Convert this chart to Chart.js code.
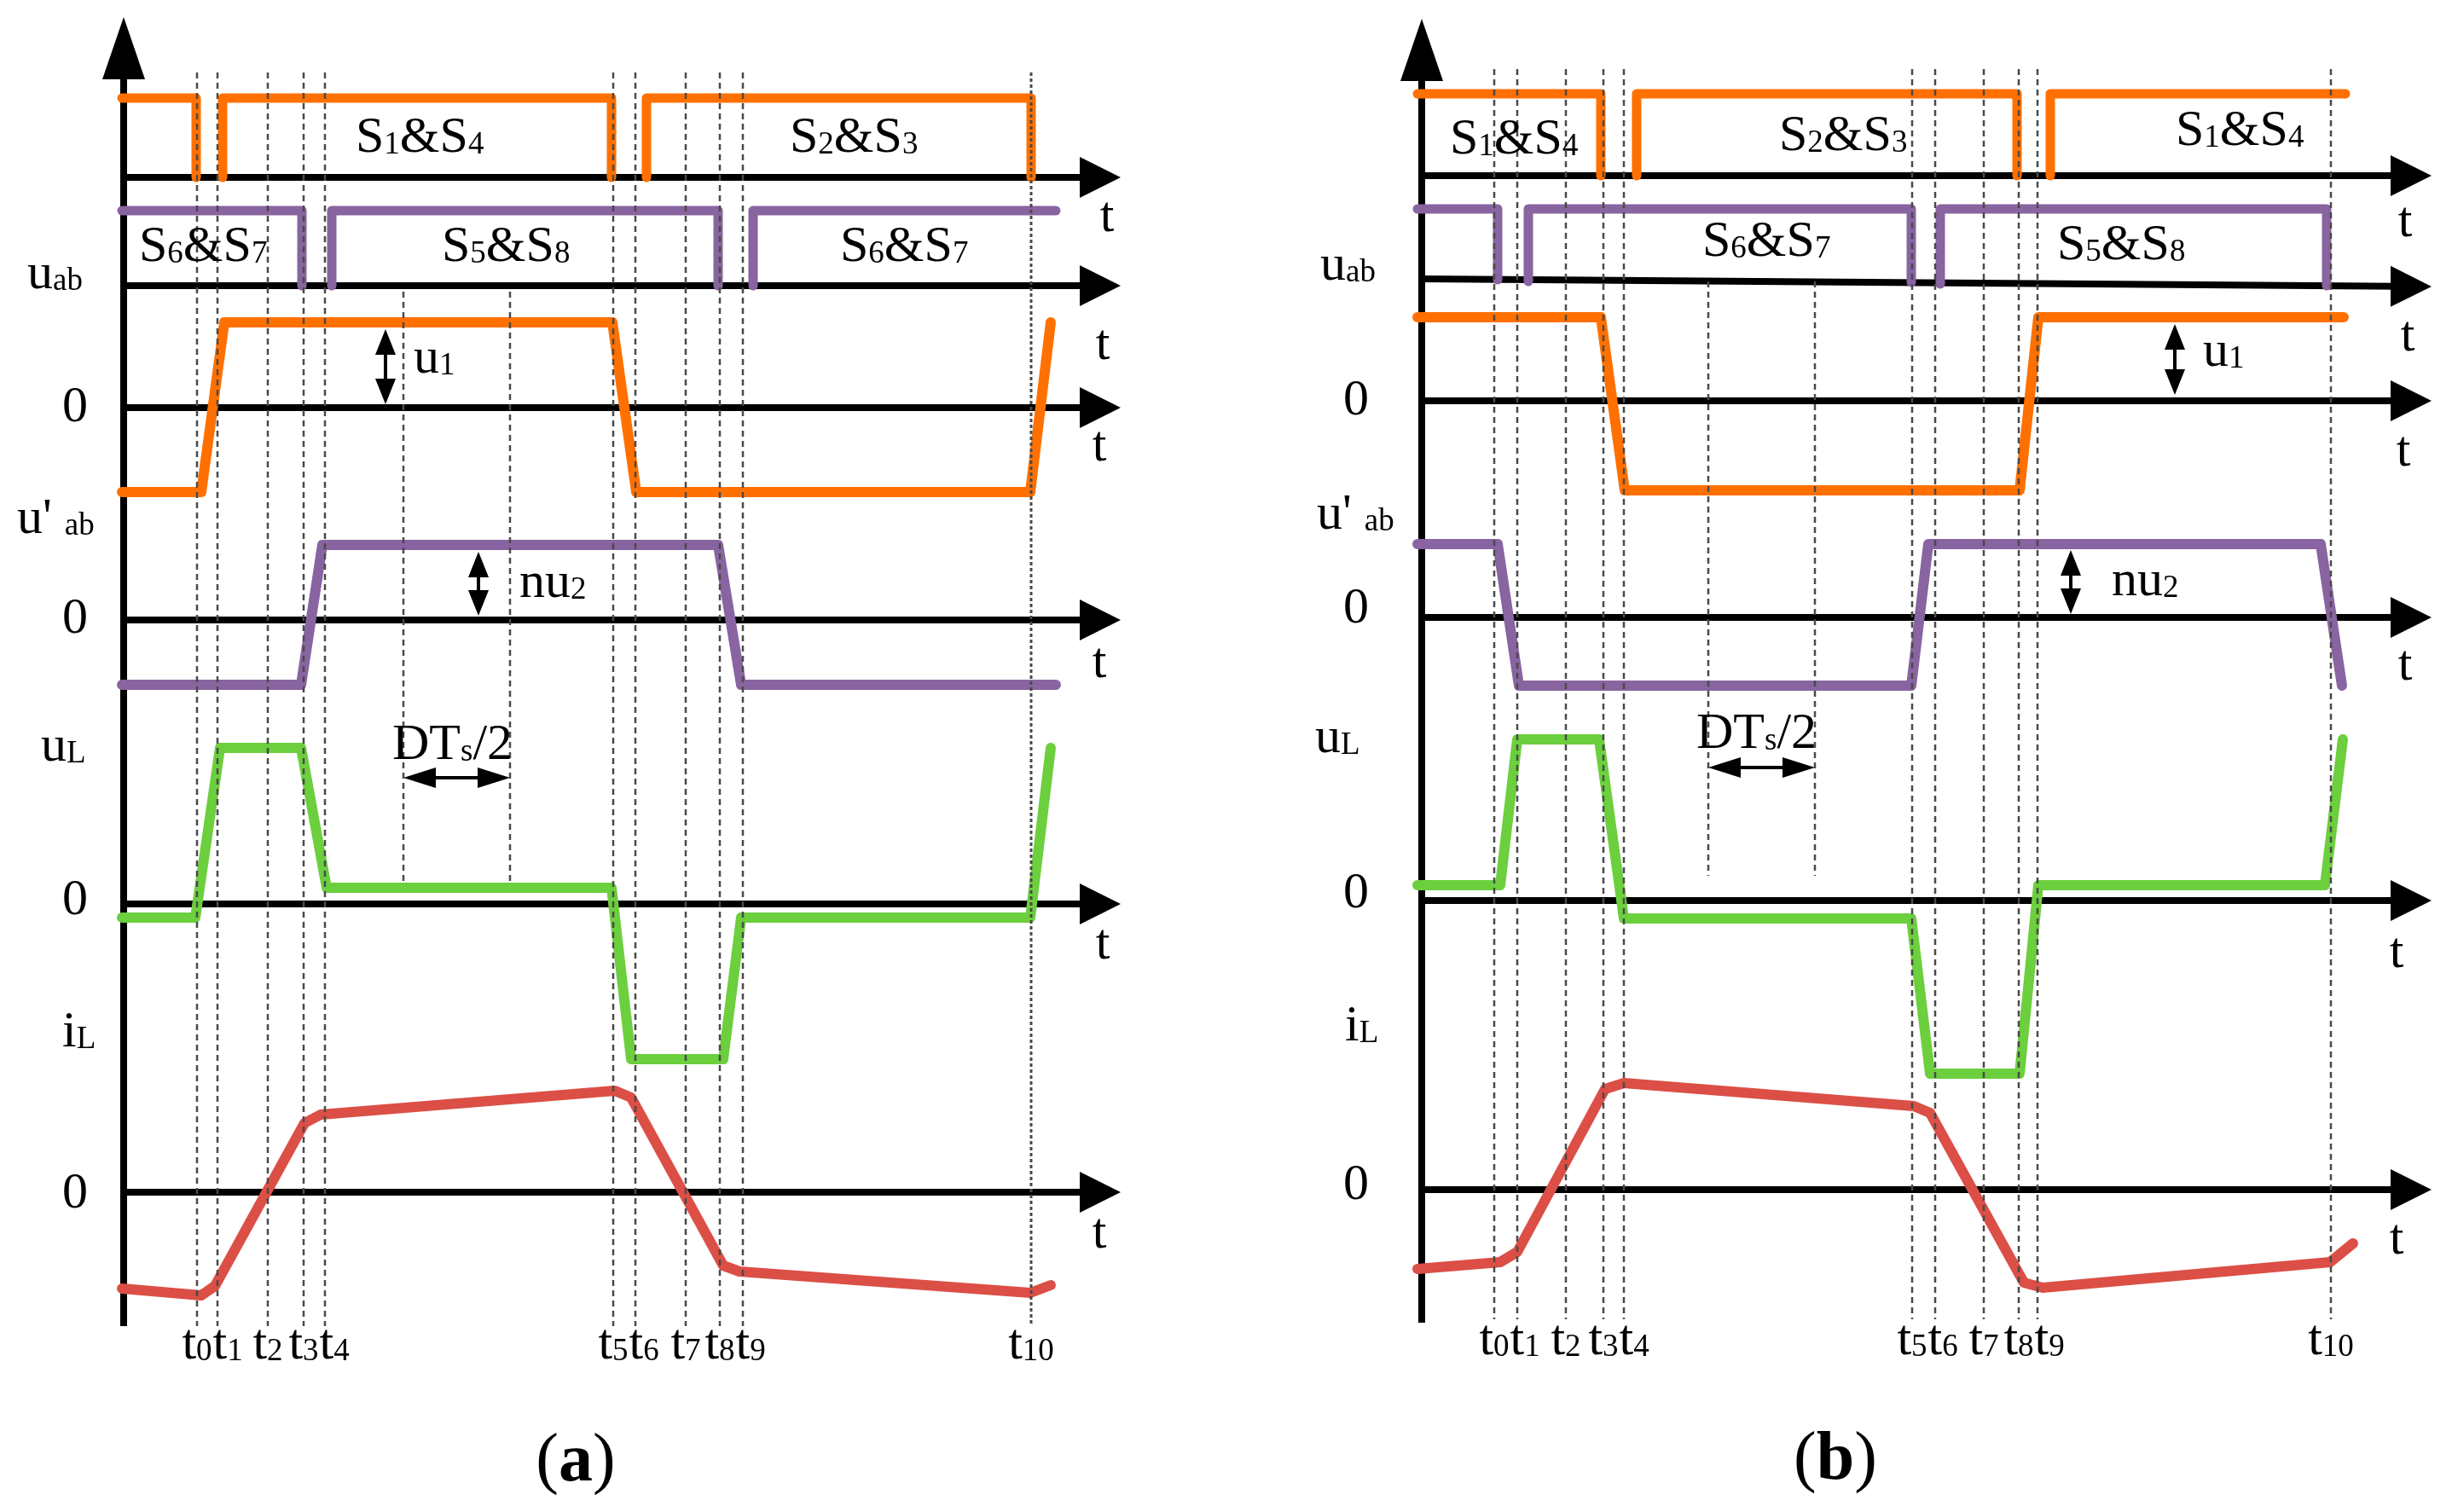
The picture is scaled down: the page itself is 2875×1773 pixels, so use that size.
<!DOCTYPE html>
<html><head><meta charset="utf-8">
<script src="https://cdn.jsdelivr.net/npm/chart.js@4.4.1/dist/chart.umd.min.js"></script>
<style>
html,body{margin:0;padding:0;background:#fff;overflow:hidden;width:2875px;height:1773px}
.panel{position:absolute;top:0;height:1773px}
#pa{left:0;width:1437px}
#pb{left:1437px;width:1438px}
</style></head><body>
<div class="panel" id="pa"><canvas id="ca"></canvas></div>
<div class="panel" id="pb"><canvas id="cb"></canvas></div>
<script>
// ================= DATA (time in x-units, levels relative to each row's zero line) =================
const tickNames = ['t_{0}','t_{1}','t_{2}','t_{3}','t_{4}','t_{5}','t_{6}','t_{7}','t_{8}','t_{9}','t_{10}'];

// ----- panel (a) -----
const a_tInstants = [8.6, 11.0, 16.9, 21.1, 23.6, 57.4, 60.0, 65.9, 69.9, 72.6, 106.4];
const a_dtsMarks  = [32.8, 45.3];
// row zero lines: S1&S4 gate, S5..S8 gate, u_ab, u'_ab, u_L, i_L
const a_rowZero   = [156.5, 143.8, 129.5, 104.6, 71.3, 37.5];
const a_gS14_t = [-0.2, 8.5, 8.5, null, 11.6, 11.6, 57.2, 57.2, null, 61.3, 61.3, 106.4, 106.4];
const a_gS14_v = [9.3, 9.3, 0, null, 0, 9.3, 9.3, 0, null, 0, 9.3, 9.3, 0];
const a_gS67_t = [-0.2, 20.9, 20.9, null, 24.4, 24.4, 69.7, 69.7, null, 73.8, 73.8, 109.3];
const a_gS67_v = [8.8, 8.8, 0, null, 0, 8.8, 8.8, 0, null, 0, 8.8, 8.8];
const a_uab_t  = [-0.2, 9.1, 11.8, 57.3, 60.1, 106.3, 108.7];
const a_uab_v  = [-9.9, -9.9, 10.0, 10.0, -9.9, -9.9, 10.0];
const a_uabp_t = [-0.2, 20.8, 23.3, 69.7, 72.4, 109.3];
const a_uabp_v = [-7.6, -7.6, 8.8, 8.8, -7.6, -7.6];
const a_uL_t   = [-0.2, 8.4, 11.3, 20.8, 23.8, 57.2, 59.5, 70.3, 72.4, 106.3, 108.7];
const a_uL_v   = [-1.6, -1.6, 18.3, 18.3, 1.9, 1.9, -18.2, -18.2, -1.6, -1.6, 18.3];
const a_iL_t   = [-0.2, 9.1, 10.7, 21.2, 23.1, 57.6, 59.5, 70.3, 72.2, 106.3, 108.7];
const a_iL_v   = [-11.3, -12.1, -11.0, 8.1, 9.1, 11.9, 11.1, -8.6, -9.3, -11.8, -10.9];
const a_u1Arrow  = [30.7, 0.4, 9.2];   // x, from, to (u_ab row)
const a_nu2Arrow = [41.6, 0.5, 8.0];   // x, from, to (u'_ab row)
const a_dtsArrow = [14.8, 32.8, 45.3]; // level (u_L row), from, to

// ----- panel (b) -----
const b_tInstants = [8.5, 11.2, 16.9, 21.3, 23.7, 57.5, 60.2, 65.9, 70.0, 72.2, 106.6];
const b_dtsMarks  = [33.6, 46.1];
const b_rowZero   = [156.7, 144.2, 130.3, 104.9, 71.7, 37.8];
const b_gS14_t = [-0.5, 21.0, 21.0, null, 25.2, 25.2, 69.8, 69.8, null, 73.7, 73.7, 108.3];
const b_gS14_v = [9.6, 9.6, 0, null, 0, 9.6, 9.6, 0, null, 0, 9.6, 9.6];
const b_gS67_t = [-0.5, 8.9, 8.9, null, 12.5, 12.5, 57.4, 57.4, null, 60.8, 60.8, 106.1, 106.1];
const b_gS67_v = [8.6, 8.6, 0.3, null, 0.1, 8.6, 8.6, 0, null, -0.2, 8.6, 8.6, -0.4];
const b_uab_t  = [-0.5, 21.0, 23.8, 70.1, 72.3, 108.1];
const b_uab_v  = [9.8, 9.8, -10.5, -10.5, 9.8, 9.8];
const b_uabp_t = [-0.5, 8.9, 11.4, 57.4, 59.4, 105.4, 107.9];
const b_uabp_v = [8.6, 8.6, -8.0, -8.0, 8.6, 8.6, -8.0];
const b_uL_t   = [-0.5, 9.2, 11.2, 20.8, 23.7, 57.4, 59.6, 70.1, 72.3, 105.9, 108.0];
const b_uL_v   = [1.8, 1.8, 18.9, 18.9, -2.1, -2.1, -20.3, -20.3, 1.8, 1.8, 18.9];
const b_iL_t   = [-0.5, 9.2, 11.2, 21.5, 23.7, 57.7, 59.6, 70.6, 72.8, 106.5, 109.2];
const b_iL_v   = [-9.3, -8.5, -7.3, 11.8, 12.5, 9.8, 9.0, -10.9, -11.5, -8.5, -6.3];
const b_u1Arrow  = [88.3, 0.7, 9.0];
const b_nu2Arrow = [76.1, 0.4, 7.9];
const b_dtsArrow = [15.6, 33.6, 46.1];

// ================= STYLE =================
const ORANGE = '#FF7000', PURPLE = '#8864A0', GREEN = '#6CCF3E', RED = '#DB4F46';
const MAIN_FONT = '60px "Liberation Serif", "Times New Roman", serif';
const SUB_FONT  = '37px "Liberation Serif", "Times New Roman", serif';

// ================= HELPERS =================
function series(ts, vs, base) {
  const out = []; let lastX = 0;
  for (let i = 0; i < ts.length; i++) {
    if (ts[i] === null) { out.push({x: lastX, y: null}); continue; }
    lastX = ts[i];
    out.push({x: ts[i], y: base + vs[i]});
  }
  return out;
}
function ds(data, color, w) {
  return {data, showLine: true, borderColor: color, backgroundColor: color, borderWidth: w,
    pointRadius: 0, pointHoverRadius: 0, tension: 0, spanGaps: false, clip: false,
    borderJoinStyle: 'round', borderCapStyle: 'round', fill: false};
}
function richParts(str) {
  const out = []; const re = /_\{([^}]*)\}/g; let last = 0, m;
  while ((m = re.exec(str))) {
    if (m.index > last) out.push([str.slice(last, m.index), false]);
    out.push([m[1], true]); last = re.lastIndex;
  }
  if (last < str.length) out.push([str.slice(last), false]);
  return out;
}
function richWidth(ctx, str) {
  let w = 0;
  for (const [s, sub] of richParts(str)) { ctx.font = sub ? SUB_FONT : MAIN_FONT; w += ctx.measureText(s).width; }
  return w;
}
function drawRich(ctx, str, x, y, align) {
  const w = richWidth(ctx, str);
  let cx = align === 'center' ? x - w / 2 : x;
  ctx.textAlign = 'left'; ctx.textBaseline = 'alphabetic'; ctx.fillStyle = '#000';
  for (const [s, sub] of richParts(str)) {
    ctx.font = sub ? SUB_FONT : MAIN_FONT;
    ctx.fillText(s, cx, y + (sub ? 2 : 0));
    cx += ctx.measureText(s).width;
  }
}
function tri(ctx, a, b, c) { ctx.beginPath(); ctx.moveTo(a[0], a[1]); ctx.lineTo(b[0], b[1]); ctx.lineTo(c[0], c[1]); ctx.closePath(); ctx.fill(); }

function makeDecor(spec) {
  return {
    id: 'decor_' + spec.id,
    beforeDatasetsDraw(chart) {
      const X = chart.scales.x, Y = chart.scales.y, ctx = chart.ctx;
      ctx.save();
      ctx.strokeStyle = '#000'; ctx.fillStyle = '#000'; ctx.lineWidth = 8; ctx.lineCap = 'butt';
      const ax = X.getPixelForValue(0);
      const yb = Y.getPixelForValue(spec.vAxis[0]), yt = Y.getPixelForValue(spec.vAxis[1]);
      ctx.beginPath(); ctx.moveTo(ax, yb); ctx.lineTo(ax, yt + 60); ctx.stroke();
      tri(ctx, [ax, yt], [ax - 25, yt + 73], [ax + 25, yt + 73]);
      const tip = X.getPixelForValue(spec.hTip);
      spec.rows.forEach((base, i) => {
        const tilt = spec.tilt[i] || [0, 0];
        const y0 = Y.getPixelForValue(base + tilt[0]);
        const y1 = Y.getPixelForValue(base + tilt[1]);
        const yAtBase = y0 + (y1 - y0) * ((tip - 46) - ax) / (tip - ax);
        ctx.beginPath(); ctx.moveTo(ax, y0); ctx.lineTo(tip - 40, yAtBase); ctx.stroke();
        tri(ctx, [tip, y1], [tip - 48, yAtBase - 24], [tip - 48, yAtBase + 24]);
      });
      ctx.restore();
    },
    afterDatasetsDraw(chart) {
      const X = chart.scales.x, Y = chart.scales.y, ctx = chart.ctx;
      ctx.save();
      // dashed time markers
      ctx.strokeStyle = '#4a4a4a'; ctx.lineWidth = 2.5; ctx.lineCap = 'butt';
      spec.tLines.forEach((t, i) => {
        const x = X.getPixelForValue(t);
        ctx.setLineDash(spec.dotLast && i === spec.tLines.length - 1 ? [4, 3] : [7, 5]);
        ctx.lineWidth = spec.dotLast && i === spec.tLines.length - 1 ? 3 : 2.5;
        ctx.beginPath(); ctx.moveTo(x, Y.getPixelForValue(spec.dashSpan[0])); ctx.lineTo(x, Y.getPixelForValue(spec.dashSpan[1])); ctx.stroke();
      });
      ctx.lineWidth = 2.5; ctx.setLineDash([7, 5]);
      spec.dtsLines.forEach(t => {
        const x = X.getPixelForValue(t);
        ctx.beginPath(); ctx.moveTo(x, Y.getPixelForValue(spec.dtsSpan[0])); ctx.lineTo(x, Y.getPixelForValue(spec.dtsSpan[1])); ctx.stroke();
      });
      ctx.setLineDash([]);
      // double arrows (vertical)
      ctx.strokeStyle = '#000'; ctx.fillStyle = '#000'; ctx.lineWidth = 4;
      spec.vArrows.forEach(([x, a, b, base]) => {
        const px = X.getPixelForValue(x);
        const yTop = Y.getPixelForValue(base + b), yBot = Y.getPixelForValue(base + a);
        const hl = Math.min(30, (yBot - yTop) / 2 - 2), hw = 12;
        ctx.beginPath(); ctx.moveTo(px, yTop + hl - 2); ctx.lineTo(px, yBot - hl + 2); ctx.stroke();
        tri(ctx, [px, yTop], [px - hw, yTop + hl], [px + hw, yTop + hl]);
        tri(ctx, [px, yBot], [px - hw, yBot - hl], [px + hw, yBot - hl]);
      });
      // double arrow (horizontal)
      {
        const [lvl, a, b, base] = spec.hArrow;
        const py = Y.getPixelForValue(base + lvl);
        const x1 = X.getPixelForValue(a), x2 = X.getPixelForValue(b);
        const hl = 38, hw = 12;
        ctx.beginPath(); ctx.moveTo(x1 + hl - 2, py); ctx.lineTo(x2 - hl + 2, py); ctx.stroke();
        tri(ctx, [x1, py], [x1 + hl, py - hw], [x1 + hl, py + hw]);
        tri(ctx, [x2, py], [x2 - hl, py - hw], [x2 - hl, py + hw]);
      }
      // text labels
      spec.labels.forEach(([s, x, y, al]) => drawRich(ctx, s, X.getPixelForValue(x), Y.getPixelForValue(y), al || 'left'));
      // tick labels t0..t10 (centered, pushed right to avoid overlap)
      let prevRight = -1e9;
      const ty = Y.getPixelForValue(spec.tickBaseline);
      tickNames.forEach((name, i) => {
        const w = richWidth(ctx, name);
        let left = X.getPixelForValue(spec.tLines[i]) - w / 2;
        if (left < prevRight + 1) left = prevRight + 1;
        drawRich(ctx, name, left, ty, 'left');
        prevRight = left + w;
      });
      // panel caption
      {
        const cx = X.getPixelForValue(spec.caption[1]), cy = Y.getPixelForValue(spec.caption[2]);
        const fN = '80px "Liberation Serif", serif', fB = 'bold 80px "Liberation Serif", serif';
        ctx.font = fN; const wp = ctx.measureText('(').width, wq = ctx.measureText(')').width;
        ctx.font = fB; const wl = ctx.measureText(spec.caption[0]).width;
        let x = cx - (wp + wl + wq) / 2;
        ctx.textAlign = 'left'; ctx.textBaseline = 'alphabetic'; ctx.fillStyle = '#000';
        ctx.font = fN; ctx.fillText('(', x, cy); x += wp;
        ctx.font = fB; ctx.fillText(spec.caption[0], x, cy); x += wl;
        ctx.font = fN; ctx.fillText(')', x, cy);
      }
      ctx.restore();
    }
  };
}

function build(canvasId, xr, rows, sets, spec) {
  const [r14, r67, rUab, rUabp, rUL, rIL] = rows;
  new Chart(document.getElementById(canvasId), {
    type: 'scatter',
    data: {datasets: [
      ds(series(sets.g14[0], sets.g14[1], r14), ORANGE, 11),
      ds(series(sets.g67[0], sets.g67[1], r67), PURPLE, 11),
      ds(series(sets.uab[0], sets.uab[1], rUab), ORANGE, 12),
      ds(series(sets.uabp[0], sets.uabp[1], rUabp), PURPLE, 12),
      ds(series(sets.uL[0], sets.uL[1], rUL), GREEN, 12),
      ds(series(sets.iL[0], sets.iL[1], rIL), RED, 12)
    ]},
    options: {
      responsive: true, maintainAspectRatio: false, animation: false, devicePixelRatio: 1, events: [],
      layout: {padding: 0},
      plugins: {legend: {display: false}, tooltip: {enabled: false}, title: {display: false}},
      scales: {
        x: {type: 'linear', min: xr[0], max: xr[1], display: false},
        y: {type: 'linear', min: 0, max: 177.3, display: false}
      }
    },
    plugins: [makeDecor(spec)]
  });
}

// ----- panel (a) -----
build('ca', [-14.5, 129.2], a_rowZero,
  {g14: [a_gS14_t, a_gS14_v], g67: [a_gS67_t, a_gS67_v], uab: [a_uab_t, a_uab_v],
   uabp: [a_uabp_t, a_uabp_v], uL: [a_uL_t, a_uL_v], iL: [a_iL_t, a_iL_v]},
  {
    id: 'a', vAxis: [21.8, 175.3], hTip: 116.9, rows: a_rowZero, tilt: [],
    tLines: a_tInstants, dotLast: true, dashSpan: [168.8, 21.8],
    dtsLines: a_dtsMarks, dtsSpan: [143.1, 73.8],
    vArrows: [[a_u1Arrow[0], a_u1Arrow[1], a_u1Arrow[2], a_rowZero[2]],
              [a_nu2Arrow[0], a_nu2Arrow[1], a_nu2Arrow[2], a_rowZero[3]]],
    hArrow: [a_dtsArrow[0], a_dtsArrow[1], a_dtsArrow[2], a_rowZero[4]],
    tickBaseline: 18.0, caption: ['a', 53.0, 3.7],
    labels: [
      ['S_{1}&S_{4}', 27.2, 159.5], ['S_{2}&S_{3}', 78.1, 159.5],
      ['S_{6}&S_{7}', 1.8, 146.7], ['S_{5}&S_{8}', 37.3, 146.7], ['S_{6}&S_{7}', 84.0, 146.7],
      ['u_{ab}', -11.3, 143.5], ['0', -7.2, 127.9],
      ["u' _{ab}", -12.5, 114.8], ['0', -7.2, 103.1],
      ['u_{L}', -9.7, 88.1], ['0', -7.2, 70.1],
      ['i_{L}', -7.2, 54.6], ['0', -7.2, 35.7],
      ['u_{1}', 34.0, 133.6], ['nu_{2}', 46.4, 107.3], ['DT_{s}/2', 31.5, 88.3],
      ['t', 115.3, 150.2, 'center'], ['t', 114.8, 135.2, 'center'], ['t', 114.4, 123.3, 'center'],
      ['t', 114.4, 97.9, 'center'], ['t', 114.8, 64.9, 'center'], ['t', 114.4, 31.0, 'center']
    ]
  });

// ----- panel (b) -----
build('cb', [-23.0, 120.8], b_rowZero,
  {g14: [b_gS14_t, b_gS14_v], g67: [b_gS67_t, b_gS67_v], uab: [b_uab_t, b_uab_v],
   uabp: [b_uabp_t, b_uabp_v], uL: [b_uL_t, b_uL_v], iL: [b_iL_t, b_iL_v]},
  {
    id: 'b', vAxis: [22.2, 175.1], hTip: 118.4, rows: b_rowZero, tilt: [null, [0.4, -0.5]],
    tLines: b_tInstants, dotLast: false, dashSpan: [169.2, 22.6],
    dtsLines: b_dtsMarks, dtsSpan: [144.3, 74.6],
    vArrows: [[b_u1Arrow[0], b_u1Arrow[1], b_u1Arrow[2], b_rowZero[2]],
              [b_nu2Arrow[0], b_nu2Arrow[1], b_nu2Arrow[2], b_rowZero[3]]],
    hArrow: [b_dtsArrow[0], b_dtsArrow[1], b_dtsArrow[2], b_rowZero[4]],
    tickBaseline: 18.5, caption: ['b', 48.5, 3.9],
    labels: [
      ['S_{1}&S_{4}', 3.3, 159.3], ['S_{2}&S_{3}', 41.9, 159.7], ['S_{1}&S_{4}', 88.4, 160.3],
      ['S_{6}&S_{7}', 32.9, 147.3], ['S_{5}&S_{8}', 74.5, 146.9],
      ['u_{ab}', -11.9, 144.5], ['0', -9.2, 128.7],
      ["u' _{ab}", -12.3, 115.3], ['0', -9.2, 104.3],
      ['u_{L}', -12.5, 89.1], ['0', -9.2, 70.9],
      ['i_{L}', -9.0, 55.3], ['0', -9.2, 36.7],
      ['u_{1}', 91.6, 134.4], ['nu_{2}', 80.9, 107.5], ['DT_{s}/2', 32.2, 89.6],
      ['t', 115.3, 149.6, 'center'], ['t', 115.6, 136.2, 'center'], ['t', 115.1, 122.7, 'center'],
      ['t', 115.3, 97.6, 'center'], ['t', 114.3, 63.9, 'center'], ['t', 114.3, 30.3, 'center']
    ]
  });
</script>
</body></html>
